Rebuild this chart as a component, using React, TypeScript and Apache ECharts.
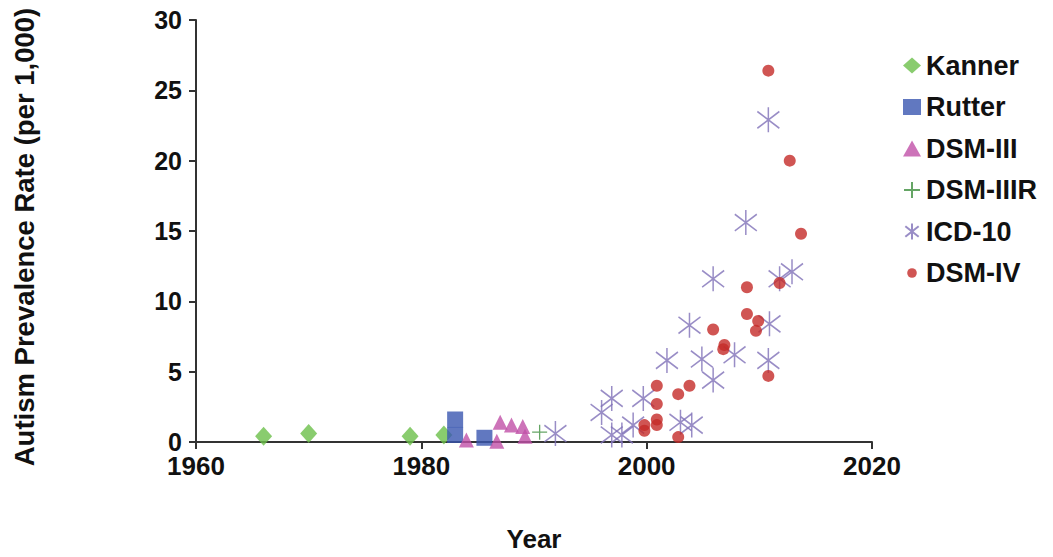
import React, { useEffect, useRef } from "react";
import * as echarts from "echarts";

const seriesNames = ["Kanner", "Rutter", "DSM-III", "DSM-IIIR", "ICD-10", "DSM-IV"];

const kanner: number[][] = [[1966, 0.4], [1970, 0.6], [1979, 0.4], [1982, 0.5]];
const rutter: number[][] = [[1983, 1.6], [1983, 0.5], [1985.6, 0.3]];
const dsm3: number[][] = [[1984, 0.15], [1986.7, 0.05], [1987, 1.4], [1988, 1.2], [1989, 1.1], [1989.2, 0.4]];
const dsm3r: number[][] = [[1990.5, 0.7]];
const icd10: number[][] = [
  [1991.9, 0.6], [1996.0, 2.1], [1996.9, 3.1], [1996.9, 0.5], [1997.8, 0.5], [1998.8, 1.2],
  [1999.7, 3.1], [2003.0, 1.4], [2004.0, 1.2], [2001.8, 5.8], [2004.9, 5.9], [2005.9, 4.4],
  [2007.8, 6.2], [2003.8, 8.3], [2010.8, 5.8], [2010.9, 8.4], [2005.9, 11.6], [2011.8, 11.6],
  [2012.9, 12.1], [2008.8, 15.6], [2010.8, 22.9],
];
const dsm4: number[][] = [
  [2010.8, 26.4], [2012.7, 20.0], [2013.7, 14.8], [2008.9, 11.0], [2011.8, 11.3], [2008.9, 9.1],
  [2009.9, 8.6], [2009.7, 7.9], [2005.9, 8.0], [2006.8, 6.6], [2006.9, 6.9], [2010.8, 4.7],
  [2000.9, 4.0], [2003.8, 4.0], [2002.8, 3.4], [2000.9, 2.7], [2000.9, 1.6], [2000.9, 1.2],
  [1999.8, 1.2], [1999.8, 0.8], [2002.8, 0.35],
];

const xMin = 1960, xMax = 2020, xStep = 20;
const yMin = 0, yMax = 30, yStep = 5;

const FONT = "'Liberation Sans', Arial, sans-serif";

export default function App() {
  const ref = useRef<HTMLDivElement>(null);
  useEffect(() => {
    if (!ref.current) return;
    const chart = echarts.init(ref.current, undefined, { renderer: "svg" });
    const asterisk = "path://M10,0 L10,24 M0,4 L20,20 M0,20 L20,4";
    const plus = "path://M7,0 L7,14 M0,7 L14,7";
    const smallDot = "path://M0,0 M20,20 M4,10 A6,6 0 1,1 16,10 A6,6 0 1,1 4,10 Z";
    chart.setOption({
      animation: false,
      backgroundColor: "#ffffff",
      grid: { left: 196, top: 20, width: 676, height: 430 },
      legend: {
        orient: "vertical",
        left: 903,
        top: 52,
        padding: 0,
        itemWidth: 18,
        itemHeight: 16,
        itemGap: 14.5,
        data: seriesNames.map((n) => (n === "DSM-IV" ? { name: n, icon: smallDot } : { name: n })),
        textStyle: { fontFamily: FONT, fontWeight: "bold", fontSize: 27, color: "#111" },
      },
      xAxis: {
        type: "value",
        min: xMin,
        max: xMax,
        interval: xStep,
        name: "Year",
        nameLocation: "middle",
        nameGap: 84,
        nameTextStyle: { fontFamily: FONT, fontWeight: "bold", fontSize: 26, color: "#111" },
        axisLine: { show: true, lineStyle: { color: "#333", width: 2 } },
        axisTick: { show: true, length: 7, lineStyle: { color: "#333", width: 2 } },
        axisLabel: { fontFamily: FONT, fontWeight: "bold", fontSize: 26, lineHeight: 20, color: "#111", margin: 14, formatter: (v: number) => String(v) },
        splitLine: { show: false },
      },
      yAxis: {
        type: "value",
        min: yMin,
        max: yMax,
        interval: yStep,
        name: "Autism Prevalence Rate (per 1,000)",
        nameLocation: "middle",
        nameGap: 158,
        nameTextStyle: { fontFamily: FONT, fontWeight: "bold", fontSize: 27.5, color: "#111", padding: [0, 12, 0, 0] },
        axisLine: { show: true, lineStyle: { color: "#333", width: 2 } },
        axisTick: { show: true, length: 7, lineStyle: { color: "#333", width: 2 } },
        axisLabel: { fontFamily: FONT, fontWeight: "bold", fontSize: 25, lineHeight: 20, color: "#111", margin: 14, padding: [0, 0, 6, 0] },
        splitLine: { show: false },
      },
      series: [
        { name: "Kanner", type: "scatter", data: kanner, symbol: "diamond", symbolSize: [17, 19], itemStyle: { color: "#6cbf4a" } },
        { name: "Rutter", type: "scatter", data: rutter, symbol: "rect", symbolSize: 16, itemStyle: { color: "#3a56b0" } },
        { name: "DSM-III", type: "scatter", data: dsm3, symbol: "triangle", symbolSize: [15, 15], itemStyle: { color: "#c050a8" } },
        { name: "DSM-IIIR", type: "scatter", data: dsm3r, symbol: plus, symbolSize: 15, itemStyle: { color: "rgba(0,0,0,0)", borderColor: "#3e8f3e", borderWidth: 1.3 } },
        { name: "ICD-10", type: "scatter", data: icd10, symbol: asterisk, symbolSize: [22, 25], itemStyle: { color: "rgba(0,0,0,0)", borderColor: "#7f70b8", borderWidth: 1.6 } },
        { name: "DSM-IV", type: "scatter", data: dsm4, symbol: "circle", symbolSize: 12, itemStyle: { color: "#c42a28" } },
      ],
    });
    return () => chart.dispose();
  }, []);
  return <div ref={ref} style={{ position: "fixed", left: 0, top: 0, width: 1053, height: 557 }} />;
}
